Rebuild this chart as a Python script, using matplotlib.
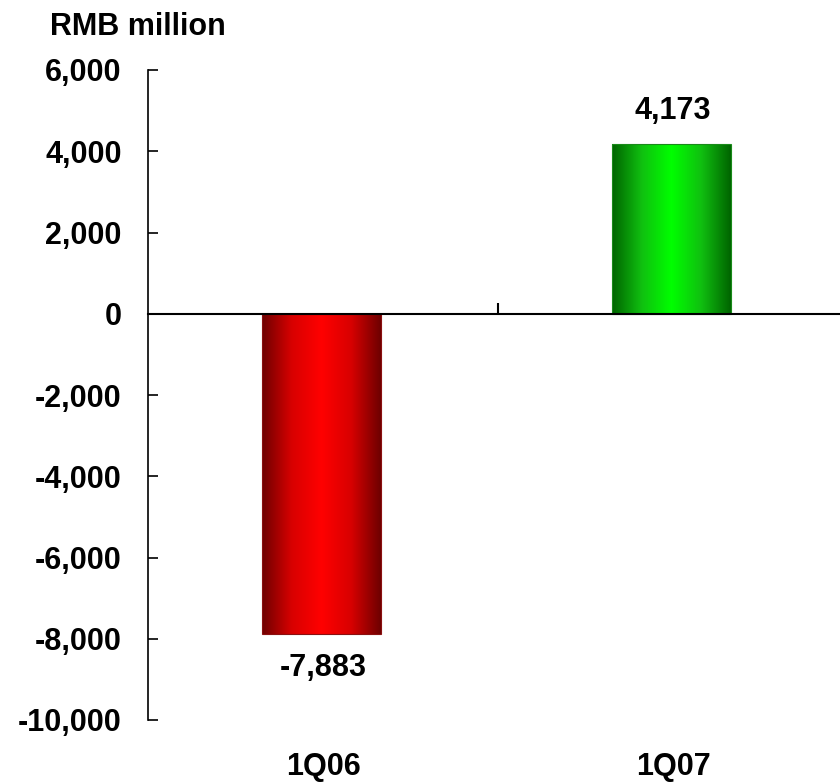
import numpy as np
import matplotlib.pyplot as plt
from matplotlib.colors import LinearSegmentedColormap
from matplotlib.transforms import blended_transform_factory

# chart data
quarters = ["1Q06", "1Q07"]
values = [-7883, 4173]
value_labels = ["-7,883", "4,173"]
yticks = [-10000, -8000, -6000, -4000, -2000, 0, 2000, 4000, 6000]

plt.rcParams['font.family'] = ['Liberation Sans', 'DejaVu Sans']
plt.rcParams['font.weight'] = 'bold'

fig = plt.figure(figsize=(8.4, 7.83), dpi=100)
ax = fig.add_axes([148 / 840, 1 - 720 / 783, 700 / 840, 650 / 783])

ax.set_xlim(-0.5, 1.5)
ax.set_ylim(-10000, 6000)

# gradient colours, dark edges and bright middle
cmaps = [
    LinearSegmentedColormap.from_list("red", ["#6e0000", "#d80000", "#ff0000", "#d80000", "#6e0000"]),
    LinearSegmentedColormap.from_list("green", ["#006400", "#10c010", "#00ff00", "#10c010", "#006400"]),
]
edge_cols = ["#8a1010", "#1a8a1a"]

fs = 22
bar_w = 0.34
grad = np.linspace(0, 1, 256).reshape(1, -1)
bars = ax.bar(np.arange(len(quarters)) - 0.004, values, width=bar_w, color="none", zorder=2)
for i, b in enumerate(bars):
    x0 = b.get_x()
    y0 = min(0, values[i])
    y1 = max(0, values[i])
    im = ax.imshow(grad, cmap=cmaps[i], aspect="auto",
                   extent=(x0, x0 + bar_w, y0, y1), zorder=1)
    im.set_clip_path(b)
    b.set_edgecolor(edge_cols[i])
    b.set_linewidth(0.8)

# value labels
for i, v in enumerate(values):
    if v < 0:
        ax.text(i, v - 480, value_labels[i], ha="center", va="top", fontsize=fs, fontweight="bold")
    else:
        ax.text(i, v + 450, value_labels[i], ha="center", va="bottom", fontsize=fs, fontweight="bold")

# axes styling
for s in ["top", "right"]:
    ax.spines[s].set_visible(False)
ax.spines["bottom"].set_position(("data", 0))
ax.spines["bottom"].set_linewidth(1.5)
ax.spines["bottom"].set_zorder(3)
ax.spines["left"].set_linewidth(1.2)

ax.set_yticks(yticks)
ax.set_yticklabels([f"{t:,}" for t in yticks])
ax.tick_params(axis="y", direction="in", length=7, width=1.2, pad=19, labelsize=fs)
ax.set_xticks([0.5])
ax.set_xticklabels([""])
ax.tick_params(axis="x", direction="in", length=8, width=1.5)

# category labels near the bottom edge
trans = blended_transform_factory(ax.transData, fig.transFigure)
for i, q in enumerate(quarters):
    ax.text(i, 1 / 783, q, ha="center", va="bottom", fontsize=fs, fontweight="bold",
            transform=trans)

fig.text(50 / 840, 1 - 27 / 783, "RMB million", ha="left", va="center", fontsize=fs, fontweight="bold")

fig.savefig("out.png", dpi=100)
